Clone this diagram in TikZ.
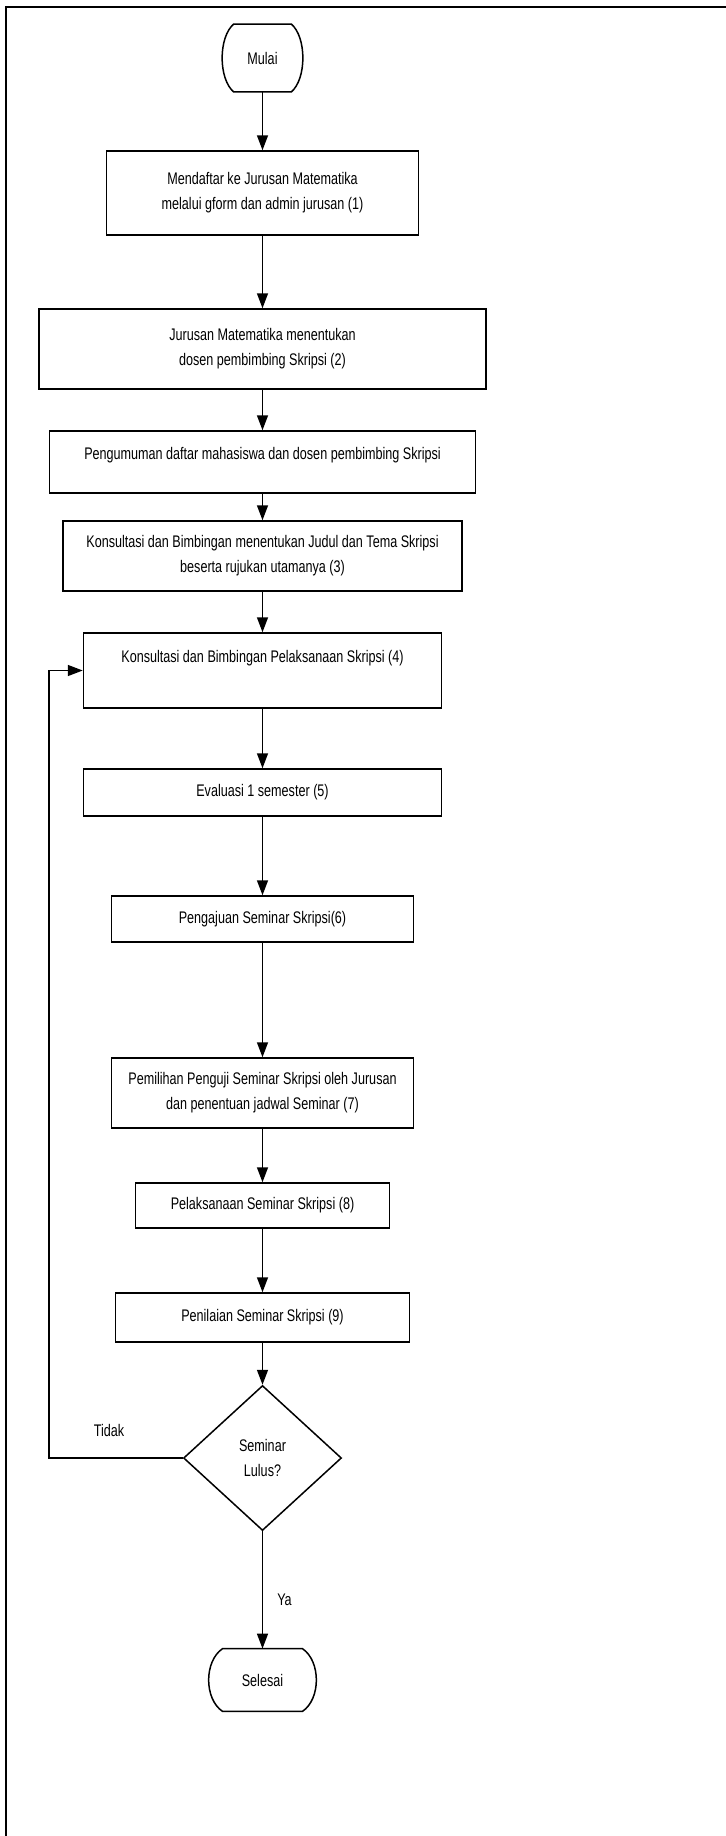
\documentclass[tikz,border=0pt]{standalone}
\usepackage{fontspec}
\setmainfont{Liberation Sans}[FakeStretch=0.75]
\usepackage{tikz}
\usetikzlibrary{calc, positioning, shapes.geometric, arrows.meta}

\tikzset{
	garis/.style={line width=0.75pt},
	proses/.style={draw, garis, rectangle, align=center, inner sep=1pt, font=\fontsize{8.4}{12.5}\selectfont},
	terminal/.style={rectangle, inner sep=0pt, font=\fontsize{8.4}{12.5}\selectfont},
	keputusan/.style={draw, garis, diamond, aspect=1, inner sep=0pt, align=center, font=\fontsize{8.4}{12.5}\selectfont},
	teks/.style={font=\fontsize{8.4}{12.5}\selectfont, inner sep=0pt},
	panah/.style={garis, arrows={-Triangle[length=7.5pt,width=5.5pt]}}
}

\begin{document}
\begin{tikzpicture}[x=0.5pt, y=-0.5pt]
	\useasboundingbox (0,0) rectangle (726,1836);
	%Bingkai
	\draw[line width=1pt] (6,1836) -- (6,7) -- (726,7);
	
	%Langkah
	\node[terminal, minimum width=40pt, minimum height=33.5pt] (mulai) at (262.5,58) {Mulai};
	\node[proses, minimum width=156pt, minimum height=42pt] (daftar) at (262.5,193) {Mendaftar ke Jurusan Matematika\\melalui gform dan admin jurusan (1)};
	\node[proses, minimum width=223.5pt, minimum height=40pt] (dosen) at (262.5,349) {Jurusan Matematika menentukan\\dosen pembimbing Skripsi (2)};
	\node[proses, minimum width=213pt, minimum height=31pt, text depth=8.8pt] (umum) at (262.5,462) {Pengumuman daftar mahasiswa dan dosen pembimbing Skripsi};
	\node[proses, minimum width=199.5pt, minimum height=35pt] (judul) at (262.5,556) {Konsultasi dan Bimbingan menentukan Judul dan Tema Skripsi\\beserta rujukan utamanya (3)};
	\node[proses, minimum width=179pt, minimum height=37.5pt, text depth=14.3pt] (bimbing) at (262.5,670.5) {Konsultasi dan Bimbingan Pelaksanaan Skripsi (4)};
	\node[proses, minimum width=179pt, minimum height=23.5pt] (evaluasi) at (262.5,792.5) {Evaluasi 1 semester (5)};
	\node[proses, minimum width=151pt, minimum height=23pt] (ajukan) at (262.5,919) {Pengajuan Seminar Skripsi(6)};
	\node[proses, minimum width=151pt, minimum height=35pt] (penguji) at (262.5,1093) {Pemilihan Penguji Seminar Skripsi oleh Jurusan\\dan penentuan jadwal Seminar (7)};
	\node[proses, minimum width=127pt, minimum height=22.5pt] (seminar) at (262.5,1205.5) {Pelaksanaan Seminar Skripsi (8)};
	\node[proses, minimum width=147pt, minimum height=24.5pt] (nilai) at (262.5,1317.5) {Penilaian Seminar Skripsi (9)};
	\node[keputusan, minimum width=79pt, minimum height=72.5pt] (lulus) at (262.5,1458) {Seminar\\Lulus?};
	\node[terminal, minimum width=53.5pt, minimum height=31pt] (selesai) at (262.5,1680) {Selesai};
	\coordinate (kiri) at (49,1458);
	
	%Tepi terminal
	\draw[garis] ([xshift=5.75pt]mulai.north west) -- ([xshift=-5.75pt]mulai.north east) .. controls ([xshift=1.9pt,yshift=-6.7pt]mulai.north east) and ([xshift=1.9pt,yshift=6.7pt]mulai.south east) .. ([xshift=-5.75pt]mulai.south east) -- ([xshift=5.75pt]mulai.south west) .. controls ([xshift=-1.9pt,yshift=6.7pt]mulai.south west) and ([xshift=-1.9pt,yshift=-6.7pt]mulai.north west) .. cycle;
	\draw[garis] ([xshift=7pt]selesai.north west) -- ([xshift=-7pt]selesai.north east) .. controls ([xshift=2.3pt,yshift=-6.2pt]selesai.north east) and ([xshift=2.3pt,yshift=6.2pt]selesai.south east) .. ([xshift=-7pt]selesai.south east) -- ([xshift=7pt]selesai.south west) .. controls ([xshift=-2.3pt,yshift=6.2pt]selesai.south west) and ([xshift=-2.3pt,yshift=-6.2pt]selesai.north west) .. cycle;
	
	%Panah
	\draw[panah] (mulai) -- (daftar);
	\draw[panah] (daftar) -- (dosen);
	\draw[panah] (dosen) -- (umum);
	\draw[panah] (umum) -- (judul);
	\draw[panah] (judul) -- (bimbing);
	\draw[panah] (bimbing) -- (evaluasi);
	\draw[panah] (evaluasi) -- (ajukan);
	\draw[panah] (ajukan) -- (penguji);
	\draw[panah] (penguji) -- (seminar);
	\draw[panah] (seminar) -- (nilai);
	\draw[panah] (nilai) -- (lulus);
	\draw[panah] (lulus) -- (selesai) node[teks, pos=0.58, right=7pt] (ya) {Ya};
	\draw[panah] (lulus.west) -- (lulus.west -| kiri) |- (bimbing.west);
	\node[teks] (tidak) at (109,1430) {Tidak};
\end{tikzpicture}
\end{document}
